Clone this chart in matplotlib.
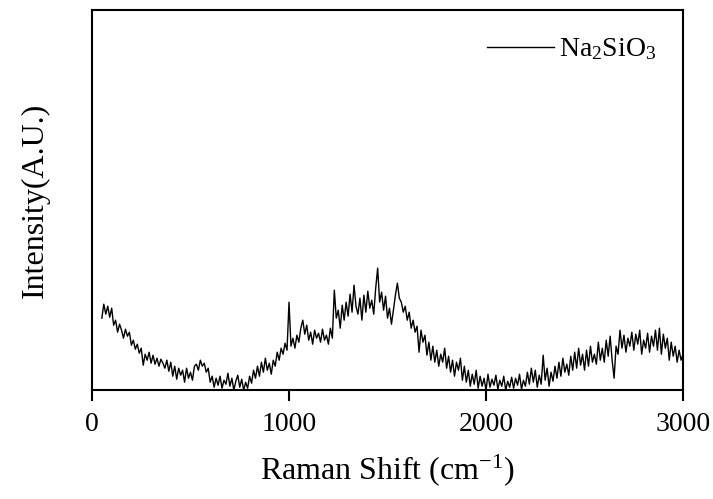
import matplotlib.pyplot as plt
import numpy as np

plt.rcParams['font.family'] = ['Liberation Serif', 'DejaVu Serif']
plt.rcParams['mathtext.default'] = 'regular'

# Raman shift grid (cm^-1), sampled every 10 cm^-1
shift_start = 50
shift_step = 10

# intensity (arbitrary units)
intensity = [
    72, 86, 76, 84, 73, 82, 65, 70, 58, 66,
    60, 52, 61, 54, 58, 45, 50, 41, 46, 37,
    42, 25, 36, 30, 38, 27, 35, 26, 32, 24,
    31, 27, 22, 30, 19, 28, 14, 24, 11, 22,
    15, 20, 8, 22, 12, 18, 10, 24, 26, 20,
    30, 24, 27, 18, 22, 8, 14, 3, 12, 5,
    14, 2, 10, 6, 17, 4, 12, 0, 9, 15,
    3, 11, 0, 8, 2, 14, 7, 20, 12, 24,
    14, 28, 18, 32, 20, 27, 16, 30, 24, 38,
    30, 42, 36, 47, 40, 88, 44, 52, 42, 55,
    48, 62, 70, 56, 65, 50, 58, 46, 60, 52,
    57, 48, 61, 50, 55, 46, 62, 52, 100, 72,
    80, 62, 85, 70, 88, 74, 96, 78, 105, 84,
    76, 92, 70, 95, 78, 99, 82, 90, 76, 102,
    122, 88, 98, 80, 94, 72, 82, 66, 80, 95,
    107, 92, 88, 78, 84, 70, 78, 62, 70, 58,
    64, 38, 60, 48, 55, 35, 48, 30, 44, 28,
    40, 24, 36, 28, 42, 22, 34, 18, 30, 14,
    28, 20, 32, 10, 24, 8, 20, 4, 16, 6,
    20, 2, 14, 4, 12, 0, 16, 3, 11, 5,
    15, 1, 10, 4, 14, 0, 9, 3, 13, 2,
    12, 5, 16, 1, 10, 4, 18, 6, 22, 8,
    20, 3, 15, 6, 35, 10, 22, 4, 18, 9,
    24, 12, 28, 14, 32, 18, 26, 15, 34, 20,
    38, 22, 42, 25, 36, 20, 40, 24, 44, 28,
    36, 26, 48, 30, 42, 28, 50, 34, 54, 30,
    12, 44, 36, 60, 42, 55, 38, 52, 44, 58,
    40, 56, 46, 60, 36, 50, 42, 57, 38, 54,
    44, 60, 40, 62, 36, 56, 42, 52, 30, 48,
    34, 44, 28, 40, 30, 36,
]
shift = shift_start + shift_step * np.arange(len(intensity))

fig = plt.figure(figsize=(7.13, 4.99), dpi=100)
ax = fig.add_axes([0.129, 0.218, 0.829, 0.762])

ax.plot(shift, intensity, color='black', linewidth=1.0, label='Na$_2$SiO$_3$')

ax.set_xlim(0, 3000)
ax.set_ylim(0, 380)
ax.set_xticks([0, 1000, 2000, 3000])
ax.set_yticks([])
ax.tick_params(axis='x', direction='out', length=8, width=1.5, labelsize=20, pad=8)
for sp in ax.spines.values():
    sp.set_linewidth(1.5)

ax.set_xlabel('Raman Shift (cm$^{-1}$)', fontsize=23, labelpad=11)
ax.set_ylabel('Intensity(A.U.)', fontsize=23, labelpad=30)

ax.legend(loc='upper right', frameon=False, fontsize=20, handlelength=2.4,
          handletextpad=0.2, borderaxespad=0.55)

fig.savefig('out.png', dpi=100)
